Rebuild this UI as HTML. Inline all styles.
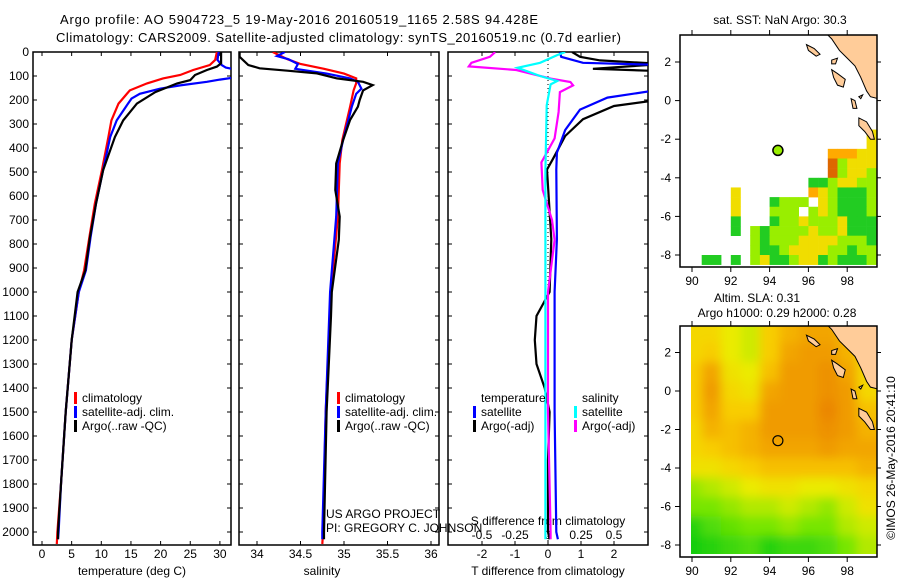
<!DOCTYPE html>
<html><head><meta charset="utf-8"><style>
html,body{margin:0;padding:0;background:#fff;}
svg{display:block;font-family:"Liberation Sans",sans-serif;}
</style></head><body>
<svg id="fig" width="900" height="580" viewBox="0 0 900 580" xmlns="http://www.w3.org/2000/svg">
<defs>
<clipPath id="c1"><rect x="33" y="52" width="198" height="493"/></clipPath>
<clipPath id="c2"><rect x="239" y="52" width="200" height="493"/></clipPath>
<clipPath id="c3"><rect x="448" y="52" width="200" height="493"/></clipPath>
<clipPath id="cm1"><rect x="680" y="35" width="197" height="232"/></clipPath>
<clipPath id="cm2"><rect x="680" y="326" width="197" height="231"/></clipPath>
<filter id="blur"><feGaussianBlur stdDeviation="5"/></filter>
</defs>
<text x="60" y="24" font-size="13" textLength="478">Argo profile: AO 5904723_5 19-May-2016 20160519_1165 2.58S 94.428E</text>
<text x="56" y="42" font-size="13" textLength="565">Climatology: CARS2009. Satellite-adjusted climatology: synTS_20160519.nc (0.7d earlier)</text>
<g id="layer"></g>
</svg>
<script>
// ---------- data ----------
const depthTicks=[0,100,200,300,400,500,600,700,800,900,1000,1100,1200,1300,1400,1500,1600,1700,1800,1900,2000];
const tempTicks=[0,5,10,15,20,25,30];
const salTicks=[34,34.5,35,35.5,36];
const salTickLabels=["34","34.5","35","35.5","36"];
const dtTicks=[-2,-1,0,1,2];
const dsTicks=[-0.5,-0.25,0,0.25,0.5];
const dsTickLabels=["-0.5","-0.25","0","0.25","0.5"];

const tClimDepth=[0,33,54,75,96,110,131,160,215,285,354,493,632,771,910,1000,1200,1500,1800,2000,2050];
const tClim=[29.5,29.2,28.3,25.5,23.3,20.4,17.7,14.8,12.9,11.7,11.2,10.1,8.9,8.0,7.1,6.2,5.0,4.0,3.2,2.6,2.5];
const tSatDepth=[0,33,54,65,75,100,108,115,124,139,153,174,194,215,285,354,493,632,771,910,1000,1200,1500,1800,2000,2030];
const tSat=[29.8,29.6,30.3,31,33,33,32,30,27.8,23.3,19.9,16.5,15.1,14.5,12.6,11.5,10.3,9.1,8.2,7.4,6.2,5.0,4.0,3.2,2.8,2.7];
const tArgoDepth=[0,47,61,75,96,117,131,167,215,285,354,493,632,771,910,1000,1200,1500,1800,2000,2030];
const tArgo=[30.2,30.2,29.5,27.8,25.8,25.0,22.8,19.1,16.0,13.7,12.3,10.3,9.1,8.1,7.3,6.0,5.0,4.0,3.2,2.7,2.7];

const sClimDepth=[0,30,50,70,90,110,130,160,228,367,464,686,1000,1500,2000,2050];
const sClim=[34.18,34.35,34.5,34.77,35.0,35.14,35.14,35.11,35.07,34.98,34.95,34.93,34.85,34.79,34.76,34.75];
const sSatDepth=[0,17,30,50,70,90,110,124,153,174,228,367,464,686,1000,1500,2000,2030];
const sSat=[34.32,34.23,34.36,34.47,34.44,34.8,35.07,35.16,35.2,35.14,35.09,34.99,34.93,34.91,34.84,34.79,34.75,34.75];
const sArgoDepth=[0,20,54,68,78,89,110,124,138,160,200,228,283,367,464,575,686,783,1000,1100,1500,2000,2030];
const sArgo=[33.8,33.8,33.9,34.03,34.35,34.69,34.92,35.22,35.33,35.22,35.18,35.16,35.07,34.99,34.91,34.9,34.95,34.94,34.86,34.85,34.8,34.77,34.77];

const dtSatDepth=[0,20,45,54,155,190,240,325,420,490,780,1000,1500,2000,2030];
const dtSat=[0.36,0.4,1.06,3.5,3.5,1.8,0.97,0.52,0.27,0.25,0.27,0.2,0.2,0.25,0.3];
const dtArgoDepth=[0,20,35,50,70,80,97,197,225,280,350,445,490,780,1000,1100,1200,1300,1400,1500,1700,2000,2030];
const dtArgo=[0.73,0.97,1.58,3.5,1.36,3.5,3.5,3.5,2.0,1.06,0.52,0.15,-0.03,0.1,0.05,-0.35,-0.4,-0.35,-0.1,0.05,0.0,0.0,0.05];
const dsSatDepth=[0,13,45,66,80,100,121,135,222,500,1000,1500,2000,2030];
const dsSat=[0.13,0.07,-0.06,-0.23,-0.16,-0.06,0.07,0.02,-0.01,-0.02,-0.02,-0.02,-0.02,-0.02];
const dsArgoDepth=[0,20,45,60,75,111,125,139,167,250,360,460,575,700,783,1000,1500,2000,2030];
const dsArgo=[-0.4,-0.44,-0.58,-0.6,-0.24,0.02,0.17,0.19,0.09,0.08,0.05,-0.05,-0.04,0.03,0.05,0.0,0.0,0.02,0.02];

const lonTicks=[90,92,94,96,98];
const latTicks=[2,0,-2,-4,-6,-8];
const argoLon=94.428, argoLat=-2.58;

const sstRows=[
"..................y",
"..................y",
"..............oooyy",
"..............dlyyy",
"..............dlyyl",
"............gglyyll",
"....y.......oylgggl",
"....y...glll.ylgggl",
"....y...lll.lylgggl",
"....g...gllylllyggg",
"....g.lgllllyllyggg",
"......lglllyyyylllg",
"......lgglyyyyllgll",
".gg.g.lygglyyglgggl"];
const slaLats=[3,2,1,0,-1,-2,-3,-4,-5,-6,-7,-8];
const slaLons=[90,91,92,93,94,95,96,97,98,99];
const slaVals=[
[.6,.6,.5,.45,.65,.75,.8,.8,.75,.7],
[.6,.65,.5,.45,.65,.8,.85,.85,.75,.6],
[.65,.8,.55,.5,.7,.85,.85,.9,.8,.6],
[.65,.85,.6,.55,.8,.85,.85,.9,.85,.6],
[.65,.8,.65,.65,.85,.85,.85,.95,.85,.7],
[.6,.75,.7,.75,.85,.85,.85,.9,.85,.75],
[.6,.65,.7,.75,.8,.8,.8,.85,.8,.8],
[.55,.55,.6,.65,.7,.7,.7,.7,.7,.75],
[.35,.4,.45,.5,.55,.55,.5,.5,.55,.6],
[.3,.3,.35,.4,.4,.45,.4,.35,.45,.55],
[.1,.2,.25,.3,.3,.35,.3,.3,.4,.45],
[.05,.1,.15,.2,.1,.15,.15,.2,.3,.4]];

// ---------- scales ----------
const NS="http://www.w3.org/2000/svg";
const L=document.getElementById('layer');
const yD=d=>52+0.24*d;
const xT=v=>42+5.93*v;
const xS=v=>257+87*(v-34);
const xDT=v=>548+33*v;
const xDS=v=>548+132*v;
const xLon=v=>692+19.4*(v-90);
const yLat1=v=>100.6-19.3*v;
const yLat2=v=>391-19.25*v;

function mk(tag,attrs,parent){const e=document.createElementNS(NS,tag);for(const k in attrs)e.setAttribute(k,attrs[k]);(parent||L).appendChild(e);return e;}
function txt(x,y,s,size,anchor,parent){const e=mk('text',{x:x,y:y,'font-size':size||12,'text-anchor':anchor||'start'},parent);e.textContent=s;return e;}

function frame(x0,y0,x1,y1,name){
  const r=mk('rect',{x:x0,y:y0,width:x1-x0,height:y1-y0,fill:'none',stroke:'#000','stroke-width':1.5});
  
  
}
function profile(depths,vals,xs,color,clip,name){
  const pts=depths.map((d,i)=>xs(vals[i]).toFixed(1)+','+yD(d).toFixed(1)).join(' ');
  const p=mk('polyline',{points:pts,fill:'none',stroke:color,'stroke-width':2.2,'clip-path':'url(#'+clip+')'});
  
  
}
function depthTicksFor(x0,x1){
  depthTicks.forEach(d=>{const y=yD(d);mk('line',{x1:x0,y1:y,x2:x0+4,y2:y,stroke:'#000'});mk('line',{x1:x1,y1:y,x2:x1-4,y2:y,stroke:'#000'});});
}
function xTicks(vals,fx,labels,ylab,name){
  const g=mk('g',{});
  
  
  vals.forEach((v,i)=>{const x=fx(v);mk('line',{x1:x,y1:52,x2:x,y2:56,stroke:'#000'},g);mk('line',{x1:x,y1:545,x2:x,y2:541,stroke:'#000'},g);txt(x,ylab,labels?labels[i]:String(v),12,'middle',g);});
}

frame(33,52,231,545,'temperature-panel-frame');
depthTicksFor(33,231);
const dl=mk('g',{});


depthTicks.forEach(d=>txt(29,yD(d)+4,String(d),12,'end',dl));
xTicks(tempTicks,xT,null,558,'temperature-x-axis');
txt(132,575,'temperature (deg C)',12,'middle');
profile(tClimDepth,tClim,xT,'#ff0000','c1','temp-climatology-line');
profile(tSatDepth,tSat,xT,'#0000ff','c1','temp-satellite-line');
profile(tArgoDepth,tArgo,xT,'#000000','c1','temp-argo-line');

frame(239,52,439,545,'salinity-panel-frame');
depthTicksFor(239,439);
xTicks(salTicks,xS,salTickLabels,558,'salinity-x-axis');
txt(322,575,'salinity',12,'middle');
profile(sClimDepth,sClim,xS,'#ff0000','c2','sal-climatology-line');
profile(sSatDepth,sSat,xS,'#0000ff','c2','sal-satellite-line');
profile(sArgoDepth,sArgo,xS,'#000000','c2','sal-argo-line');

frame(448,52,648,545,'difference-panel-frame');
depthTicksFor(448,648);
xTicks(dtTicks,xDT,null,558,'t-difference-x-axis');
txt(548,575,'T difference from climatology',12,'middle');
txt(548,525,'S difference from climatology',12,'middle');
const dsg=mk('g',{});


dsTicks.forEach((v,i)=>txt(xDS(v),539,dsTickLabels[i],12,'middle',dsg));
mk('line',{x1:548,y1:52,x2:548,y2:545,stroke:'#000','stroke-dasharray':'1,3'});
profile(dtArgoDepth,dtArgo,xDT,'#000000','c3','dt-argo-line');
profile(dtSatDepth,dtSat,xDT,'#0000ff','c3','dt-satellite-line');
profile(dsArgoDepth,dsArgo,xDS,'#ff00ff','c3','ds-argo-line');
profile(dsSatDepth,dsSat,xDS,'#00ffff','c3','ds-satellite-line');

function legItem(x,y,color,label,name){
  const g=mk('g',{});
  
  
  mk('rect',{x:x,y:y-10,width:3,height:12,fill:color},g);
  txt(x+8,y,label,12,'start',g);
}
legItem(74,402,'#ff0000','climatology','legend-temp-climatology');
legItem(74,416,'#0000ff','satellite-adj. clim.','legend-temp-satellite');
legItem(74,430,'#000000','Argo(..raw -QC)','legend-temp-argo');
legItem(337,402,'#ff0000','climatology','legend-sal-climatology');
legItem(337,416,'#0000ff','satellite-adj. clim.','legend-sal-satellite');
legItem(337,430,'#000000','Argo(..raw -QC)','legend-sal-argo');
txt(481,402,'temperature',12);
txt(582,402,'salinity',12);
legItem(473,416,'#0000ff','satellite','legend-dt-satellite');
legItem(473,430,'#000000','Argo(-adj)','legend-dt-argo');
legItem(574,416,'#00ffff','satellite','legend-ds-satellite');
legItem(574,430,'#ff00ff','Argo(-adj)','legend-ds-argo');
txt(326,518,'US ARGO PROJECT',12);
txt(326,532,'PI: GREGORY C. JOHNSON',12);

const sstColors={g:'#22cc22',l:'#99ee00',y:'#f0dd00',o:'#ffaa00',d:'#dd6600'};
function slaColor(v){
  const stops=[[0,[0,200,20]],[0.3,[120,230,0]],[0.5,[235,235,0]],[0.65,[248,205,0]],[0.8,[242,165,0]],[0.95,[235,135,0]]];
  let a=stops[0],b=stops[stops.length-1];
  for(let i=0;i<stops.length-1;i++){if(v>=stops[i][0]&&v<=stops[i+1][0]){a=stops[i];b=stops[i+1];break;}}
  const t=b[0]===a[0]?0:(v-a[0])/(b[0]-a[0]);
  const c=a[1].map((x,i)=>Math.round(x+(b[1][i]-x)*t));
  return 'rgb('+c.join(',')+')';
}
function land(yLat,clip,name){
  const g=mk('g',{'clip-path':'url(#'+clip+')'});
  
  
  const coast=[[96.9,3.5],[97.2,3.2],[97.6,2.6],[98.0,2.2],[98.4,1.8],[98.7,1.2],[99.0,0.5],[99.2,0.2],[99.6,0.1],[99.6,3.5]];
  mk('polygon',{points:coast.map(p=>xLon(p[0])+','+yLat(p[1])).join(' '),fill:'#ffcc99',stroke:'#000','stroke-width':1},g);
  const isl=[
   [[95.9,2.9],[96.3,2.7],[96.6,2.4],[96.4,2.3],[96.0,2.6]],
   [[97.2,2.1],[97.5,2.2],[97.4,1.9],[97.2,1.9]],
   [[97.2,1.6],[97.5,1.4],[97.9,1.1],[97.8,0.7],[97.5,0.8],[97.3,1.2]],
   [[98.2,0.1],[98.4,0.0],[98.5,-0.4],[98.3,-0.4]],
   [[98.6,0.2],[98.8,0.3],[98.7,0.1]],
   [[98.6,-0.9],[99.0,-1.1],[99.3,-1.6],[99.4,-2.0],[99.2,-2.0],[98.9,-1.6],[98.6,-1.3]]];
  isl.forEach(s=>mk('polygon',{points:s.map(p=>xLon(p[0])+','+yLat(p[1])).join(' '),fill:'#ffcc99',stroke:'#000','stroke-width':1},g));
}
function mapAxes(y0,y1,yLat,name){
  const g=mk('g',{});
  
  
  lonTicks.forEach(v=>{const x=xLon(v);mk('line',{x1:x,y1:y0,x2:x,y2:y0-5,stroke:'#000'},g);mk('line',{x1:x,y1:y1,x2:x,y2:y1+5,stroke:'#000'},g);txt(x,y1+18,String(v),12,'middle',g);});
  latTicks.forEach(v=>{const y=yLat(v);mk('line',{x1:680,y1:y,x2:675,y2:y,stroke:'#000'},g);mk('line',{x1:877,y1:y,x2:881,y2:y,stroke:'#000'},g);txt(671,y+4,String(v),12,'end',g);});
  mk('rect',{x:680,y:y0,width:197,height:y1-y0,fill:'none',stroke:'#000','stroke-width':1.5},g);
}
txt(780,24,'sat. SST: NaN Argo: 30.3',12,'middle');
const sg=mk('g',{'clip-path':'url(#cm1)'});


sstRows.forEach((row,r)=>{
  const latTop=-1.5-0.5*r;
  [...row].forEach((ch,c)=>{
    if(ch==='.')return;
    const lon=90+0.5*c;
    const x=xLon(lon),y=yLat1(latTop);
    const cell=mk('rect',{x:x,y:y,width:xLon(lon+0.5)-x+0.3,height:yLat1(latTop-0.5)-y+0.3,fill:sstColors[ch]},sg);
    
    
  });
});
land(yLat1,'cm1','sst-map-land');
mapAxes(35,267,yLat1,'sst-map-axes');
const p1=mk('circle',{cx:xLon(argoLon),cy:yLat1(argoLat),r:5,fill:'#99ee00',stroke:'#000','stroke-width':1.5});



txt(757,302,'Altim. SLA: 0.31',12,'middle');
txt(777,317,'Argo h1000: 0.29 h2000: 0.28',12,'middle');
const cg=mk('g',{'clip-path':'url(#cm2)'});
const hg=mk('g',{filter:'url(#blur)'},cg);


slaLats.forEach((lat,r)=>slaLons.forEach((lon,c)=>{
  let x=xLon(lon-0.5),x2=xLon(lon+0.5),y=yLat2(lat+0.5),y2=yLat2(lat-0.5);
  if(c===0)x-=10; if(c===slaLons.length-1)x2+=12; if(r===0)y-=12; if(r===slaLats.length-1)y2+=12;
  const cell=mk('rect',{x:x,y:y,width:x2-x+0.5,height:y2-y+0.5,fill:slaColor(slaVals[r][c])},hg);
  
  
}));
mk('rect',{x:680,y:326,width:11,height:231,fill:'#fff'},cg);
mk('rect',{x:680,y:554,width:197,height:4,fill:'#fff'},cg);
land(yLat2,'cm2','sla-map-land');
mapAxes(326,557,yLat2,'sla-map-axes');
const p2=mk('circle',{cx:xLon(argoLon),cy:yLat2(argoLat),r:5,fill:'none',stroke:'#000','stroke-width':1.2});


const cr=txt(0,0,'©IMOS 26-May-2016 20:41:10',12,'middle');
cr.setAttribute('transform','translate(895,458) rotate(-90)');

</script>
</body></html>
